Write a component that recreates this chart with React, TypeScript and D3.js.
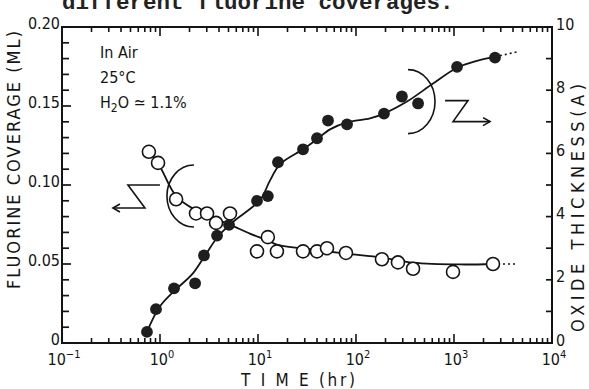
import { scaleLog, scaleLinear, line, curveCatmullRom, range } from 'd3';

// open circles -> fluorine coverage (left axis)
const openTime = [0.77, 0.955, 1.46, 2.33, 3.02, 3.73, 5.18, 9.77, 12.6, 15.6, 28.8, 40, 50.6, 79, 184, 268, 382, 977, 2500];
const coverage = [0.121, 0.114, 0.091, 0.082, 0.082, 0.076, 0.082, 0.058, 0.067, 0.058, 0.058, 0.058, 0.06, 0.057, 0.053, 0.051, 0.047, 0.045, 0.05];

// filled circles -> oxide thickness (right axis)
const filledTime = [0.736, 0.91, 1.39, 2.28, 2.81, 3.82, 5.06, 9.77, 12.6, 16.0, 28.8, 40, 51.8, 81, 193, 294, 430, 1074, 2620];
const oxide = [0.35, 1.07, 1.73, 1.89, 2.77, 3.4, 3.74, 4.5, 4.65, 5.72, 6.13, 6.48, 7.04, 6.92, 7.26, 7.8, 7.58, 8.74, 9.03];

// hand drawn guide curves
const coverageFitTime = [0.77, 0.955, 1.46, 2.38, 3.65, 5.18, 8.27, 12.6, 15.6, 28.8, 79, 184, 382, 1150, 2500];
const coverageFit = [0.121, 0.114, 0.093, 0.0837, 0.0786, 0.0749, 0.0692, 0.0648, 0.0623, 0.0598, 0.0566, 0.0541, 0.0509, 0.0497, 0.05];
const coverageTailTime = [2500, 4400];
const coverageTail = [0.05, 0.05];

const oxideFitTime = [0.736, 1.0, 1.46, 2.12, 2.88, 3.91, 5.43, 10.5, 13.2, 16.8, 28.8, 40, 54.3, 81, 139, 193, 331, 611, 1074, 1718, 2620];
const oxideFit = [0.35, 1.16, 1.7, 2.17, 2.77, 3.37, 3.81, 4.53, 5.13, 5.66, 6.13, 6.45, 6.76, 6.98, 7.11, 7.26, 7.64, 8.21, 8.71, 8.93, 9.06];
const oxideTailTime = [2620, 4400];
const oxideTail = [9.06, 9.21];

const leftTicks = ['0', '0.05', '0.10', '0.15', '0.20'];
const rightTicks = ['0', '2', '4', '6', '8', '10'];
const decades = ['-1', '0', '1', '2', '3', '4'];
const notes = ['In Air', '25°C'];

const W = 589;
const H = 389;
const margin = { top: 27, right: 37, bottom: 46, left: 62 };
const FONT = "'DejaVu Sans Condensed', 'DejaVu Sans', sans-serif";
const INK = '#141414';

export default function App() {
  const innerW = W - margin.left - margin.right;
  const innerH = H - margin.top - margin.bottom;

  const x = scaleLog().domain([0.1, 1e4]).range([0, innerW]);
  const yL = scaleLinear().domain([0, 0.2]).range([innerH, 0]);
  const yR = scaleLinear().domain([0, 10]).range([innerH, 0]);

  const pts = (xs: number[], ys: number[]) => xs.map((t, i) => [t, ys[i]] as [number, number]);
  const covLine = line<[number, number]>().x((d) => x(d[0])).y((d) => yL(d[1])).curve(curveCatmullRom.alpha(0.5));
  const oxLine = line<[number, number]>().x((d) => x(d[0])).y((d) => yR(d[1])).curve(curveCatmullRom.alpha(0.5));

  // log ticks for top and bottom axes
  const logTicks = range(-1, 4)
    .flatMap((e) => range(1, 10).map((k) => ({ v: k * Math.pow(10, e), major: k === 1 })))
    .concat([{ v: 1e4, major: true }]);

  // annotation anchors, in data units
  const lb = { x: x(2.22), y: yL(0.093) };
  const rb = { x: x(356), y: yR(7.64) };

  return (
    <div style={{ position: 'fixed', left: 0, top: 0, background: '#fff' }}>
      <svg width={W} height={H} style={{ display: 'block' }} fontFamily={FONT}>
        <rect width={W} height={H} fill="#fff" />
        {/* clipped caption line from the page above */}
        <text x={62} y={9} fontFamily="'Liberation Mono', monospace" fontWeight="bold" fontSize={22.5} fill="#222">
          different fluorine coverages.
        </text>

        <g transform={`translate(${margin.left},${margin.top})`}>
          {/* frame */}
          <rect x={0} y={0} width={innerW} height={innerH} fill="none" stroke={INK} strokeWidth={2} />

          {/* log ticks, bottom and top */}
          {logTicks.map((t, i) => {
            const len = t.major ? 9 : 5;
            return (
              <g key={`lt${i}`} stroke={INK} strokeWidth={1.6}>
                <line x1={x(t.v)} x2={x(t.v)} y1={innerH} y2={innerH - len} />
                <line x1={x(t.v)} x2={x(t.v)} y1={0} y2={len} />
              </g>
            );
          })}

          {/* left ticks every 0.01 */}
          {range(0, 21).map((i) => (
            <line key={`l${i}`} x1={0} x2={i % 5 === 0 ? 9 : 7} y1={yL(i / 100)} y2={yL(i / 100)} stroke={INK} strokeWidth={1.7} />
          ))}
          {/* right ticks every 1 */}
          {range(0, 11).map((i) => (
            <line key={`r${i}`} x1={innerW} x2={innerW - 6} y1={yR(i)} y2={yR(i)} stroke={INK} strokeWidth={1.7} />
          ))}

          {/* tick labels */}
          {leftTicks.map((s) => (
            <text key={s} x={-2} y={yL(+s) - 3} textAnchor="end" dominantBaseline="middle" fontSize={16} fill={INK}>
              {s}
            </text>
          ))}
          {rightTicks.map((s) => (
            <text key={s} x={innerW + 4} y={yR(+s) - 2} dominantBaseline="middle" fontSize={16} fill={INK}>
              {s}
            </text>
          ))}
          {decades.map((e) => (
            <text key={e} x={x(Math.pow(10, +e)) + 2} y={innerH + 22} textAnchor="middle" fontSize={16} fill={INK}>
              10
              <tspan dy={-7} fontSize={11}>
                {e === '-1' ? '\u22121' : e}
              </tspan>
            </text>
          ))}

          {/* guide curves */}
          <path d={covLine(pts(coverageFitTime, coverageFit)) || ''} fill="none" stroke={INK} strokeWidth={1.8} />
          <path d={oxLine(pts(oxideFitTime, oxideFit)) || ''} fill="none" stroke={INK} strokeWidth={1.8} />
          <path d={covLine(pts(coverageTailTime, coverageTail)) || ''} fill="none" stroke={INK} strokeWidth={1.6} strokeDasharray="2 3" />
          <path d={oxLine(pts(oxideTailTime, oxideTail)) || ''} fill="none" stroke={INK} strokeWidth={1.6} strokeDasharray="2 3" />

          {/* data */}
          {openTime.map((t, i) => (
            <circle key={`o${i}`} cx={x(t)} cy={yL(coverage[i])} r={6.5} fill="#fff" stroke={INK} strokeWidth={1.6} />
          ))}
          {filledTime.map((t, i) => (
            <circle key={`f${i}`} cx={x(t)} cy={yR(oxide[i])} r={5.9} fill="#1e1e1e" />
          ))}

          {/* brackets and axis pointers */}
          <g fill="none" stroke={INK} strokeWidth={1.6}>
            <path d={`M${lb.x},${lb.y - 31} A27,31 0 0 0 ${lb.x},${lb.y + 31}`} />
            <path d={`M${lb.x - 34},${lb.y - 11} H${lb.x - 66} L${lb.x - 49},${lb.y + 12} H${lb.x - 81}`} />
            <path d={`M${lb.x - 74},${lb.y + 8} L${lb.x - 81},${lb.y + 12} L${lb.x - 74},${lb.y + 16}`} />
            <path d={`M${rb.x - 2},${rb.y - 32} A27,32 0 0 1 ${rb.x - 2},${rb.y + 32}`} />
            <path d={`M${rb.x + 35},${rb.y - 1} H${rb.x + 58} L${rb.x + 43},${rb.y + 20} H${rb.x + 80}`} />
            <path d={`M${rb.x + 73},${rb.y + 16} L${rb.x + 80},${rb.y + 20} L${rb.x + 73},${rb.y + 24}`} />
          </g>

          {/* conditions */}
          {notes.map((s, i) => (
            <text key={s} x={38} y={31 + i * 25} fontSize={16} fill={INK}>
              {s}
            </text>
          ))}
          <text x={38} y={81} fontSize={16} fill={INK}>
            H<tspan dy={4} fontSize={12}>2</tspan>
            <tspan dy={-4}>O  ≃ 1.1%</tspan>
          </text>
        </g>

        {/* axis titles */}
        <text
          transform="translate(15,160) rotate(-90)"
          textAnchor="middle"
          dominantBaseline="middle"
          fontSize={18}
          textLength={258}
          lengthAdjust="spacing"
          fill={INK}
        >
          FLUORINE COVERAGE (ML)
        </text>
        <text
          transform="translate(579,208) rotate(-90)"
          textAnchor="middle"
          dominantBaseline="middle"
          fontSize={18}
          textLength={248}
          lengthAdjust="spacing"
          fill={INK}
        >
          OXIDE THICKNESS(A)
        </text>
        <text x={298} y={386} textAnchor="middle" fontSize={17} textLength={114} lengthAdjust="spacing" fill={INK}>
          T I M E (hr)
        </text>
      </svg>
    </div>
  );
}
